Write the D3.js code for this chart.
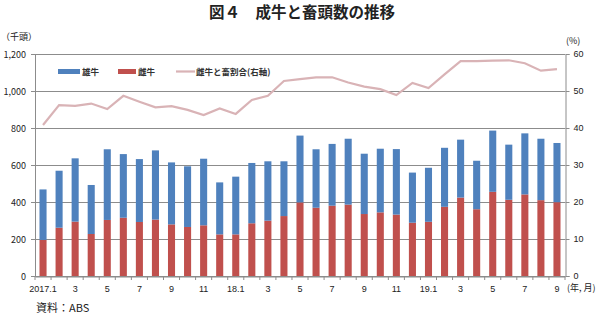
<!DOCTYPE html>
<html><head><meta charset="utf-8">
<script src="https://cdn.jsdelivr.net/npm/d3@7"></script>
<style>
body{margin:0;background:#fff;}
svg{display:block;font-family:"Noto Sans CJK JP","Noto Sans",sans-serif;}
</style></head>
<body><svg id="c" width="604" height="316"></svg>
<script>
const categories = ["2017.1","2017.2","2017.3","2017.4","2017.5","2017.6","2017.7","2017.8","2017.9","2017.10","2017.11","2017.12",
"2018.1","2018.2","2018.3","2018.4","2018.5","2018.6","2018.7","2018.8","2018.9","2018.10","2018.11","2018.12",
"2019.1","2019.2","2019.3","2019.4","2019.5","2019.6","2019.7","2019.8","2019.9"];
const tickLabels = ["2017.1","","3","","5","","7","","9","","11","","18.1","","3","","5","","7","","9","","11","","19.1","","3","","5","","7","","9"];
const female = [195,261,294,227,303,315,292,305,279,265,274,225,225,285,299,324,398,369,380,386,335,344,332,288,293,374,424,361,455,412,441,410,399];
const male = [273,308,342,265,382,344,340,374,335,328,360,281,312,326,321,296,361,316,334,356,326,344,354,271,292,319,313,262,331,298,330,332,320];
const femaleShare = [40.8,46.2,46.0,46.6,45.1,48.7,47.1,45.6,45.9,44.9,43.5,45.3,43.8,47.6,48.7,52.7,53.2,53.7,53.7,52.3,51.2,50.5,48.9,52.2,50.8,54.5,58.1,58.1,58.2,58.3,57.5,55.5,55.9];
const leftTicks = [0,200,400,600,800,1000,1200];
const rightTicks = [0,10,20,30,40,50,60];
const seriesNames = ["雄牛","雌牛","雌牛と畜割合(右軸)"];

const svg = d3.select("#c");
const L=35, R=565, T=54, B=276;
const x = d3.scaleBand().domain(categories).range([L,R]).paddingInner(0.56).paddingOuter(0.28);
const xb = d3.scaleBand().domain(categories).range([L,R]);
const y = d3.scaleLinear().domain([0,1200]).range([B,T]);
const y2 = d3.scaleLinear().domain([0,60]).range([B,T]);
const gridCol="#8c8c8c";

// gridlines
svg.append("g").selectAll("line").data(leftTicks).join("line")
  .attr("x1",L-4).attr("x2",R).attr("y1",d=>y(d)+0.5).attr("y2",d=>y(d)+0.5)
  .attr("stroke",gridCol).attr("stroke-width",1);
// left axis line
svg.append("line").attr("x1",L+0.5).attr("x2",L+0.5).attr("y1",T).attr("y2",B).attr("stroke",gridCol);
// right axis
const ra = svg.append("g").attr("transform",`translate(${R+0.5},0)`)
  .call(d3.axisRight(y2).tickValues(rightTicks).tickSize(4).tickPadding(4));
ra.select(".domain").attr("stroke",gridCol);
ra.selectAll(".tick line").attr("stroke",gridCol);
ra.selectAll("text").attr("fill","#222").attr("font-size","9px");
// left labels
svg.append("g").selectAll("text").data(leftTicks).join("text")
  .attr("x",26).attr("y",d=>y(d)+3.5).attr("text-anchor","end")
  .attr("font-size","9px").attr("fill","#222").text(d=>d3.format(",")(d));

// bars
const g = svg.append("g");
g.selectAll("rect.f").data(categories).join("rect").attr("class","f")
  .attr("x",d=>x(d)).attr("width",x.bandwidth())
  .attr("y",(d,i)=>y(female[i])).attr("height",(d,i)=>y(0)-y(female[i]))
  .attr("fill","#c0504d");
g.selectAll("rect.m").data(categories).join("rect").attr("class","m")
  .attr("x",d=>x(d)).attr("width",x.bandwidth())
  .attr("y",(d,i)=>y(female[i]+male[i])).attr("height",(d,i)=>y(female[i])-y(female[i]+male[i]))
  .attr("fill","#4f81bd");

// x axis
const xa = svg.append("g").attr("transform",`translate(0,${B+0.5})`)
  .call(d3.axisBottom(xb).tickSize(0).tickFormat((d,i)=>tickLabels[i]).tickPadding(9));
xa.select(".domain").attr("stroke",gridCol);
xa.selectAll("text").attr("font-size","9px").attr("fill","#222");
svg.append("g").selectAll("line").data(d3.range(categories.length+1)).join("line")
  .attr("x1",i=>L+i*xb.step()).attr("x2",i=>L+i*xb.step())
  .attr("y1",B).attr("y2",B+4).attr("stroke",gridCol);

// line
svg.append("path").datum(femaleShare)
  .attr("d",d3.line().x((d,i)=>xb(categories[i])+xb.bandwidth()/2).y(d=>y2(d)))
  .attr("fill","none").attr("stroke","#d9b3b6").attr("stroke-width",2.2);

// legend
const lg = svg.append("g").attr("font-size","8.5px").attr("font-weight","bold").attr("fill","#333");
lg.append("rect").attr("x",58).attr("y",69).attr("width",22).attr("height",5).attr("fill","#4f81bd");
lg.append("text").attr("x",82).attr("y",75).text(seriesNames[0]);
lg.append("rect").attr("x",118).attr("y",69).attr("width",18).attr("height",5).attr("fill","#c0504d");
lg.append("text").attr("x",138).attr("y",75).text(seriesNames[1]);
lg.append("line").attr("x1",176).attr("x2",195).attr("y1",71.5).attr("y2",71.5).attr("stroke","#d9b3b6").attr("stroke-width",2.2);
lg.append("text").attr("x",196).attr("y",75).text(seriesNames[2]);

// titles & units
svg.append("text").attr("x",302).attr("y",18).attr("text-anchor","middle")
  .attr("font-size","15.5px").attr("font-weight","bold").attr("fill","#222").text("図４　成牛と畜頭数の推移");
svg.append("text").attr("x",1).attr("y",40).attr("font-size","9px").attr("fill","#222").text("（千頭）");
svg.append("text").attr("x",566).attr("y",44).attr("font-size","9px").attr("fill","#222").text("(%)");
svg.append("text").attr("x",567).attr("y",291).attr("font-size","9px").attr("fill","#222").text("(年, 月)");
svg.append("text").attr("x",36).attr("y",312).attr("font-size","11px").attr("fill","#222").text("資料：ABS");
</script></body></html>
